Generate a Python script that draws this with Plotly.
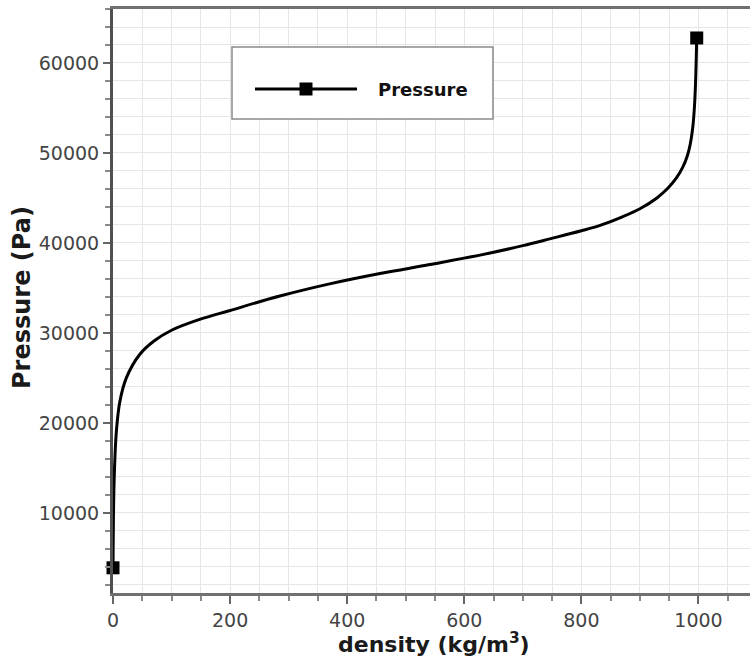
import plotly.graph_objects as go

# Density (kg/m^3) and pressure (Pa) along the curve
density = [0, 1.2, 2.9, 5.7, 11.5, 22.8, 45.6, 70, 100, 148, 200, 285, 370, 456,
           541, 627, 700, 746, 800, 832, 870, 900, 929, 948, 962, 973, 981, 986,
           990, 993, 995, 996.2, 997]
pressure = [3900, 11500, 15500, 19000, 22300, 25000, 27600, 29100, 30300, 31500,
            32500, 34100, 35450, 36600, 37600, 38650, 39700, 40450, 41350, 41950,
            42900, 43800, 45000, 46100, 47200, 48400, 49700, 51000, 52700, 55000,
            57800, 60500, 62780]

series_name = "Pressure"
x_title = "density (kg/m<sup>3</sup>)"
y_title = "Pressure (Pa)"

W, H = 750, 659
M = dict(l=113, r=0, t=9, b=66)
PW = W - M["l"] - M["r"]
PH = H - M["t"] - M["b"]


def px_to_paper(x, y):
    return (x - M["l"]) / PW, (H - M["b"] - y) / PH


FONT = "DejaVu Sans, sans-serif"
GRID = "#e6e6e6"

fig = go.Figure()

# the curve itself
fig.add_trace(go.Scatter(
    x=density, y=pressure, mode="lines",
    line=dict(color="black", width=3, shape="spline", smoothing=1.0),
    showlegend=False, hoverinfo="skip",
))

# end-point markers
fig.add_trace(go.Scatter(
    x=[density[0], density[-1]], y=[pressure[0], pressure[-1]], mode="markers",
    marker=dict(symbol="square", size=13, color="black"),
    showlegend=False, cliponaxis=False,
))

axis_common = dict(
    showline=True, ticks="outside", tickcolor="#666", tickwidth=1.5,
    tickfont=dict(family=FONT, size=19, color="#444"),
    tickformat="d",
    showgrid=True, gridcolor=GRID, gridwidth=1, zeroline=False,
)

fig.update_xaxes(
    range=[0, 1088], dtick=200, tick0=0, ticklen=8,
    linecolor="#707070", linewidth=2.5, mirror=True,
    minor=dict(dtick=50, ticks="outside", ticklen=5, tickcolor="#888",
               showgrid=True, gridcolor=GRID, gridwidth=1),
    **axis_common,
)
fig.update_yaxes(
    range=[1100, 66000], dtick=10000, tick0=0, ticklen=7,
    linecolor="#505050", linewidth=3,
    minor=dict(dtick=2000, ticks="outside", ticklen=5, tickcolor="#888",
               showgrid=True, gridcolor=GRID, gridwidth=1),
    **axis_common,
)

# axis titles
axx, axy = px_to_paper(434, 643)
fig.add_annotation(xref="paper", yref="paper", x=axx, y=axy, text="<b>%s</b>" % x_title,
                   showarrow=False, xanchor="center", yanchor="middle",
                   font=dict(family=FONT, size=22, color="#1a1a1a"))
ayx, ayy = px_to_paper(22, 298)
fig.add_annotation(xref="paper", yref="paper", x=ayx, y=ayy, text="<b>%s</b>" % y_title,
                   showarrow=False, xanchor="center", yanchor="middle", textangle=-90,
                   font=dict(family=FONT, size=24, color="#1a1a1a"))

# legend box drawn in paper space
bx0, by0 = px_to_paper(232, 119)
bx1, by1 = px_to_paper(493, 47)
lx0, ly = px_to_paper(255, 89)
lx1, _ = px_to_paper(357, 89)
mx, my = px_to_paper(306, 89)
hx, hy = 6.5 / PW, 6.5 / PH
tx, _ = px_to_paper(376, 89)

fig.add_shape(type="rect", xref="paper", yref="paper", x0=bx0, y0=by0, x1=bx1, y1=by1,
              line=dict(color="#8a8a8a", width=1.5), fillcolor="white", layer="above")
fig.add_shape(type="line", xref="paper", yref="paper", x0=lx0, y0=ly, x1=lx1, y1=ly,
              line=dict(color="black", width=3), layer="above")
fig.add_shape(type="rect", xref="paper", yref="paper", x0=mx - hx, y0=my - hy,
              x1=mx + hx, y1=my + hy, line=dict(color="black", width=0),
              fillcolor="black", layer="above")
fig.add_annotation(xref="paper", yref="paper", x=tx, y=ly, text="<b>%s</b>" % series_name,
                   showarrow=False, xanchor="left", yanchor="middle",
                   font=dict(family=FONT, size=18, color="#111"))

fig.update_layout(
    width=W, height=H, margin=M,
    plot_bgcolor="white", paper_bgcolor="white",
    font=dict(family=FONT),
    showlegend=False,
)

fig.write_html("out.html")
